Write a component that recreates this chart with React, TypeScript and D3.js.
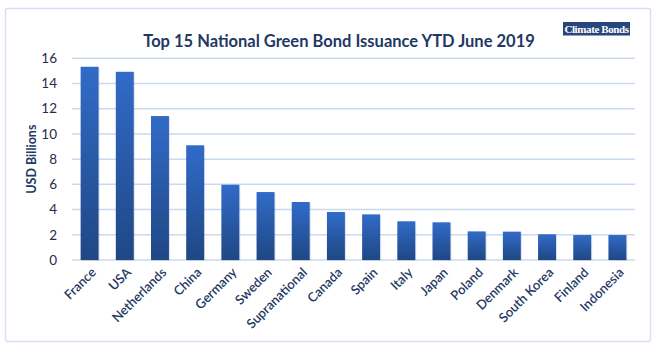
import React from "react";
import * as d3 from "d3";

const countries = ["France","USA","Netherlands","China","Germany","Sweden","Supranational","Canada","Spain","Italy","Japan","Poland","Denmark","South Korea","Finland","Indonesia"];
const values = [15.33,14.93,11.42,9.1,5.97,5.39,4.6,3.81,3.62,3.07,2.99,2.27,2.25,2.04,1.98,1.98];
const yTicks = [0,2,4,6,8,10,12,14,16];
const title = "Top 15 National Green Bond Issuance YTD June 2019";
const yLabel = "USD Billions";

export default function App() {
  const W = 658, H = 352;
  const left = 72, right = 635, top = 58.3, bottom = 260;
  const x = d3.scaleBand<string>().domain(countries).range([left, right]).paddingInner(0.49).paddingOuter(0.245);
  const y = d3.scaleLinear().domain([0, 16]).range([bottom, top]);
  const font = "Lato, 'Open Sans', sans-serif";
  const navy = "#1F3864";
  return (
    <svg width={W} height={H} style={{ position: "absolute", left: 0, top: 0 }}>
      <defs>
        <linearGradient id="barg" x1="0" y1="0" x2="0" y2="1">
          <stop offset="0" stopColor="#316BC8" />
          <stop offset="1" stopColor="#1F4784" />
        </linearGradient>
      </defs>
      <rect x={0} y={0} width={W} height={H} fill="#fff" />
      <rect x={5.5} y={8.5} width={645} height={333} fill="#fff" stroke="#D6E2F3" strokeWidth={1.5} rx={2} />
      <text x={339} y={47} textAnchor="middle" fontFamily={font} fontWeight={700} fontSize={16.5} fill={navy}>{title}</text>
      <rect x={563} y={22} width={67} height={13.5} fill="#27467D" />
      <text x={596.5} y={32.5} textAnchor="middle" fontFamily="'Liberation Serif', serif" fontWeight={700} fontSize={11} fill="#fff" letterSpacing={-0.4}>Climate Bonds</text>
      {yTicks.map(t => (
        <g key={t}>
          <line x1={left} x2={right} y1={y(t)} y2={y(t)} stroke="#C9DAF0" strokeWidth={1.5} />
          <text x={57} y={y(t)} dy="0.35em" textAnchor="end" fontFamily={font} fontSize={13.5} fill="#2A2A4A">{t}</text>
        </g>
      ))}
      <text transform={`translate(36,${(top + bottom) / 2}) rotate(-90)`} textAnchor="middle" fontFamily={font} fontWeight={700} fontSize={12.5} fill={navy}>{yLabel}</text>
      {countries.map((c, i) => (
        <g key={c}>
          <rect x={x(c)! + 1} y={y(values[i]) + 1} width={x.bandwidth()} height={bottom - y(values[i])} fill="#9AA8C0" opacity={0.35} />
          <rect x={x(c)!} y={y(values[i])} width={x.bandwidth()} height={bottom - y(values[i])} fill="url(#barg)" />
        </g>
      ))}
      {countries.map(c => (
        <text key={c} transform={`translate(${x(c)! + x.bandwidth() / 2 + 4},${bottom + 10}) rotate(-45)`} textAnchor="end" dy="0.35em" fontFamily={font} fontWeight={600} fontSize={13} fill={navy}>{c}</text>
      ))}
    </svg>
  );
}
